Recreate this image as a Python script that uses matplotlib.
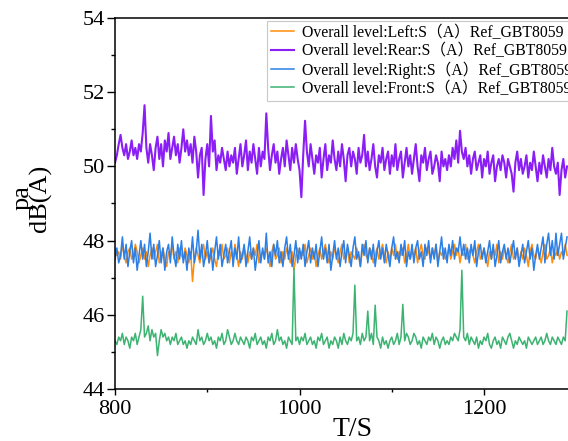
import numpy as np
import matplotlib
matplotlib.use("Agg")
from matplotlib import pyplot as plt

# Overall A-weighted level for the four microphone positions, one sample every 2 s
t_start = 800
t_step = 2

left = [
    47.8, 47.6, 47.7, 47.5, 47.9, 47.6, 47.4, 47.7, 47.8, 47.5,
    47.6, 47.9, 47.7, 47.4, 47.6, 47.8, 47.5, 47.7, 47.3, 47.6,
    47.8, 47.5, 47.7, 47.9, 47.4, 47.6, 47.8, 47.5, 47.3, 47.7,
    47.6, 47.9, 47.5, 47.7, 47.4, 47.8, 47.6, 47.5, 47.8, 47.6,
    47.4, 47.7, 46.9, 47.5, 47.8, 47.6, 47.4, 47.7, 47.9, 47.5,
    47.7, 47.4, 47.6, 47.8, 47.5, 47.3, 47.7, 47.6, 47.9, 47.5,
    47.6, 47.8, 47.4, 47.7, 47.5, 47.9, 47.6, 47.3, 47.7, 47.5,
    47.8, 47.6, 47.4, 47.7, 47.5, 47.8, 47.6, 47.9, 47.4, 47.6,
    47.7, 47.5, 47.8, 47.6, 47.3, 47.7, 47.9, 47.5, 47.6, 47.8,
    47.4, 47.7, 47.5, 47.8, 47.6, 47.4, 47.7, 47.2, 47.6, 47.8,
    47.5, 47.7, 47.6, 47.9, 47.4, 47.6, 47.8, 47.5, 47.7, 47.3,
    47.6, 47.8, 47.5, 47.7, 47.9, 47.6, 47.4, 47.7, 47.5, 47.8,
    47.6, 47.4, 47.7, 47.9, 47.5, 47.6, 47.8, 47.4, 47.7, 47.6,
    47.5, 47.8, 47.6, 47.3, 47.7, 47.9, 47.6, 47.5, 47.8, 47.7,
    47.4, 47.6, 47.8, 47.5, 47.7, 47.9, 47.6, 47.4, 47.7, 47.5,
    47.8, 47.6, 47.9, 47.5, 47.7, 47.6, 47.8, 47.4, 47.6, 47.9,
    47.5, 47.7, 47.6, 47.8, 47.4, 47.7, 47.9, 47.6, 47.5, 47.8,
    47.7, 47.5, 47.8, 47.6, 47.9, 47.4, 47.7, 47.6, 47.8, 47.5,
    47.6, 47.8, 47.5, 47.7, 47.9, 47.6, 47.8, 47.4, 47.7, 47.6,
    47.9, 47.5, 47.7, 47.8, 47.6, 47.4, 47.7, 47.9, 47.5, 47.6,
    47.8, 47.6, 47.3, 47.7, 47.5, 47.8, 47.6, 47.9, 47.4, 47.7,
    47.5, 47.8, 47.6, 47.4, 47.7, 47.9, 47.5, 47.6, 47.8, 47.4,
    47.7, 47.5, 47.8, 47.6, 47.3, 47.7, 47.9, 47.6, 47.5, 47.8,
    47.6, 47.4, 47.7, 47.9, 47.5, 47.6, 47.8, 47.4, 47.7, 47.6,
    47.8, 47.5, 47.7, 47.6, 47.9, 47.6,
]

rear = [
    50.1, 50.3, 50.6, 50.85, 50.5, 50.3, 50.6, 50.2, 50.4, 50.7,
    50.3, 50.5, 50.2, 50.6, 50.4, 50.9, 51.65, 50.5, 50.1, 50.6,
    50.3, 49.9, 50.5, 50.8, 50.2, 50.6, 50.0, 50.7, 50.4, 50.9,
    50.2, 50.5, 50.8, 50.3, 50.6, 50.1, 50.5, 51.0, 50.4, 50.7,
    50.3, 50.6, 50.1, 50.8, 50.4, 49.7, 50.3, 50.5, 49.23, 50.2,
    50.6, 50.0, 51.36, 50.4, 50.7, 49.9, 50.3, 50.1, 50.5, 50.2,
    49.9, 50.4, 50.0, 50.3, 50.1, 50.5, 49.8, 50.2, 50.6, 50.0,
    50.3, 50.7, 49.9, 50.4, 50.1, 50.6, 50.2, 49.8, 50.5, 50.0,
    50.4, 50.2, 51.43, 50.5, 49.9, 50.3, 50.6, 50.1, 50.4, 49.8,
    50.2, 50.5, 50.0, 50.7, 50.3, 49.9, 50.5, 50.1, 50.6, 50.2,
    49.9, 49.17, 50.3, 51.23, 50.4, 50.0, 50.6, 50.2, 49.8, 50.3,
    50.1, 50.5, 49.7, 50.2, 50.6, 49.9, 50.3, 50.1, 50.7, 50.2,
    49.9, 50.4, 50.0, 50.6, 50.2, 49.6, 50.3, 50.5, 50.0, 50.4,
    50.2, 49.8, 50.5, 50.1, 50.3, 50.85, 50.0, 50.4, 49.9, 50.2,
    50.6, 50.0, 49.7, 50.3, 50.1, 50.5, 49.9, 50.2, 50.4, 49.8,
    50.3, 50.0, 50.6, 49.9, 50.2, 50.4, 49.7, 50.1, 50.5, 50.0,
    50.3, 49.8, 50.2, 50.6, 50.0, 49.6, 50.3, 50.1, 50.5, 49.9,
    50.2, 50.4, 49.8, 50.0, 50.3, 50.1, 49.6, 50.4, 50.0, 50.2,
    49.9, 50.3, 50.0, 50.5, 50.2, 50.7, 50.1, 50.96, 50.4, 50.2,
    50.5, 50.0, 50.3, 49.8, 50.2, 50.4, 49.9, 50.1, 50.3, 49.7,
    50.2, 50.0, 50.4, 49.8, 50.1, 50.3, 49.6, 50.0, 50.2, 49.9,
    50.3, 50.1, 49.7, 50.2, 50.0, 49.8, 49.32, 50.1, 50.4, 49.9,
    50.2, 49.8, 50.0, 50.3, 49.7, 50.1, 49.9, 50.4, 50.0, 49.6,
    50.1, 49.8, 50.3, 50.0, 49.7, 50.2, 49.9, 50.5, 50.0, 49.8,
    50.1, 49.23, 49.9, 50.2, 49.7, 50.0,
]

right = [
    47.5, 47.8, 47.4, 47.6, 48.1, 47.5, 47.9, 47.3, 47.7, 48.0,
    47.4, 47.8, 47.2, 47.6, 48.0, 47.5, 47.9, 47.3, 47.7, 48.2,
    47.5, 47.9, 47.3, 47.6, 48.0, 47.4, 47.8, 47.2, 47.7, 47.9,
    47.4, 48.1, 47.6, 47.3, 47.9, 47.5, 48.0, 47.4, 47.7, 47.2,
    47.8, 47.5, 48.1, 47.4, 47.7, 48.28, 47.5, 47.9, 47.3, 47.6,
    48.0, 47.4, 47.8, 47.2, 47.7, 48.1, 47.5, 47.9, 47.3, 47.6,
    47.9, 47.4, 47.7, 48.0, 47.3, 47.8, 47.5, 48.1, 47.4, 47.6,
    47.9, 47.3, 47.7, 48.1, 47.5, 47.8, 47.2, 47.6, 48.0, 47.4,
    47.8, 47.5, 48.2, 47.4, 47.7, 47.3, 47.9, 47.6, 48.0, 47.4,
    47.7, 47.3, 47.8, 48.1, 47.5, 47.9, 47.3, 47.6, 48.0, 47.4,
    47.8, 47.5, 47.9, 47.3, 47.7, 48.0, 47.4, 47.8, 47.5, 47.9,
    47.3, 47.7, 48.1, 47.5, 47.8, 47.4, 47.9, 47.2, 47.6, 48.0,
    47.5, 47.8, 47.3, 47.7, 48.0, 47.4, 47.9, 47.6, 47.3, 47.8,
    48.1, 47.5, 47.7, 47.3, 47.9, 47.6, 48.0, 47.4, 47.8, 47.5,
    47.9, 47.3, 47.7, 48.0, 47.5, 47.8, 47.4, 47.9, 47.6, 47.3,
    47.8, 48.1, 47.5, 47.7, 47.4, 47.9, 47.6, 48.0, 47.3, 47.7,
    47.5, 47.9, 47.4, 47.8, 48.0, 47.5, 47.7, 47.3, 47.9, 47.6,
    48.0, 47.4, 47.8, 47.5, 47.9, 47.3, 47.7, 48.1, 47.5, 47.8,
    47.4, 47.9, 47.6, 48.0, 47.5, 47.8, 47.7, 48.1, 47.6, 47.9,
    47.5, 47.8, 47.4, 47.9, 47.6, 48.0, 47.3, 47.7, 47.9, 47.5,
    47.8, 47.4, 47.7, 48.0, 47.5, 47.9, 47.3, 47.6, 48.0, 47.4,
    47.7, 47.9, 47.5, 47.8, 47.4, 47.7, 48.0, 47.5, 47.8, 47.3,
    47.6, 47.9, 47.4, 47.7, 48.0, 47.5, 47.8, 47.2, 47.6, 47.9,
    47.5, 47.8, 48.1, 47.4, 47.9, 48.2, 47.6, 48.0, 47.5, 48.2,
    47.6, 47.9, 48.2, 47.5, 47.8, 48.1,
]

front = [
    45.3, 45.2, 45.4, 45.3, 45.5, 45.2, 45.4, 45.3, 45.1, 45.4,
    45.3, 45.5, 45.2, 45.4, 45.6, 46.5, 45.4, 45.5, 45.7, 45.3,
    45.6, 45.4, 45.5, 44.9, 45.3, 45.6, 45.4, 45.5, 45.3, 45.4,
    45.2, 45.4, 45.3, 45.5, 45.2, 45.3, 45.4, 45.2, 45.3, 45.1,
    45.3, 45.2, 45.4, 45.3, 45.2, 45.6, 45.3, 45.4, 45.2, 45.3,
    45.5, 45.3, 45.4, 45.2, 45.3, 45.1, 45.4, 45.3, 45.5, 45.2,
    45.3, 45.6, 45.4, 45.2, 45.3, 45.5, 45.3, 45.2, 45.4, 45.3,
    45.2, 45.4, 45.3, 45.1, 45.4, 45.3, 45.5, 45.2, 45.3, 45.4,
    45.2, 45.3, 45.1, 45.4, 45.3, 45.5, 45.2, 45.3, 45.6, 45.3,
    45.4, 45.2, 45.3, 45.1, 45.4, 45.3, 45.2, 47.25, 45.3, 45.4,
    45.2, 45.4, 45.3, 45.5, 45.2, 45.3, 45.4, 45.2, 45.3, 45.1,
    45.4, 45.3, 45.5, 45.2, 45.3, 45.4, 45.1, 45.3, 45.2, 45.4,
    45.3, 45.1, 45.4, 45.2, 45.5, 45.3, 45.2, 45.4, 45.3, 45.5,
    46.8, 45.3, 45.4, 45.2, 45.5, 45.3, 45.4, 46.1, 45.3, 45.5,
    45.2, 46.26, 45.4, 45.3, 45.1, 45.4, 45.2, 45.3, 45.1, 45.3,
    45.4, 45.2, 45.3, 45.5, 45.2, 45.4, 46.28, 45.3, 45.5, 45.4,
    45.2, 45.3, 45.5, 45.4, 45.2, 45.3, 45.1, 45.4, 45.3, 45.2,
    45.4, 45.3, 45.5, 45.2, 45.4, 45.3, 45.1, 45.3, 45.4, 45.2,
    45.3, 45.2, 45.4, 45.3, 45.5, 45.4, 45.3, 45.6, 47.2, 45.4,
    45.3, 45.5, 45.2, 45.4, 45.3, 45.2, 45.4, 45.1, 45.3, 45.2,
    45.4, 45.3, 45.5, 45.2, 45.1, 45.3, 45.4, 45.2, 45.3, 45.1,
    45.4, 45.3, 45.2, 45.4, 45.5, 45.3, 45.1, 45.3, 45.2, 45.4,
    45.3, 45.2, 45.3, 45.1, 45.4, 45.3, 45.2, 45.3, 45.4, 45.2,
    45.3, 45.4, 45.2, 45.3, 45.5, 45.3, 45.2, 45.4, 45.3, 45.2,
    45.4, 45.3, 45.2, 45.4, 45.3, 46.1,
]

labels = [
    "Overall level:Left:S（A）Ref_GBT8059",
    "Overall level:Rear:S（A）Ref_GBT8059",
    "Overall level:Right:S（A）Ref_GBT8059",
    "Overall level:Front:S（A）Ref_GBT8059",
]

t = t_start + t_step * np.arange(len(left))

plt.rcParams['font.family'] = ['Liberation Serif', 'Noto Sans CJK SC']

fig = plt.figure(figsize=(5.68, 4.41), dpi=100)
ax = fig.add_axes([0.2025, 0.1179, 0.838, 0.8413])

l1, = ax.plot(t, left, color='#FF8C0A', lw=1.1)
l2, = ax.plot(t, rear, color='#8B1EF5', lw=1.5)
l4, = ax.plot(t, front, color='#3CB371', lw=1.1)
l3, = ax.plot(t, right, color='#2A7FE8', lw=1.1)

ax.set_xlim(800, 1316)
ax.set_ylim(44, 54)
ax.set_xticks([800, 1000, 1200])
ax.set_xticks([900, 1100, 1300], minor=True)
ax.set_yticks(np.arange(44, 55, 2))
ax.set_yticks(np.arange(45, 54, 2), minor=True)

for s in ax.spines.values():
    s.set_linewidth(1.1)
ax.tick_params(axis='both', which='major', direction='out', width=1.0,
               labelsize=16)
ax.tick_params(axis='y', which='major', length=5.5, pad=1.5)
ax.tick_params(axis='y', which='minor', length=3, width=1.0)
ax.tick_params(axis='x', which='major', length=4, pad=4)
ax.tick_params(axis='x', which='minor', length=2.5, width=1.0)

ax.set_xlabel('T/S', fontsize=20, va='top')
ax.xaxis.set_label_coords(0.5, -0.075)

# two-line y label, tight line spacing
fig.text(32 / 568, 1 - 198 / 441, 'pa\ndB(A)', rotation=90, fontsize=19,
         ha='center', va='center', multialignment='center', linespacing=0.74)

leg = ax.legend([l1, l2, l3, l4], labels, loc='upper left',
                bbox_to_anchor=(267 / 568, 1 - 21 / 441),
                bbox_transform=fig.transFigure, fontsize=11.3,
                frameon=True, fancybox=False, framealpha=1,
                edgecolor='#c8c8c8', borderaxespad=0, borderpad=0.25,
                handlelength=1.45, handletextpad=0.5, labelspacing=0.14)
leg.get_frame().set_linewidth(0.8)

fig.savefig('out.png', dpi=100)
